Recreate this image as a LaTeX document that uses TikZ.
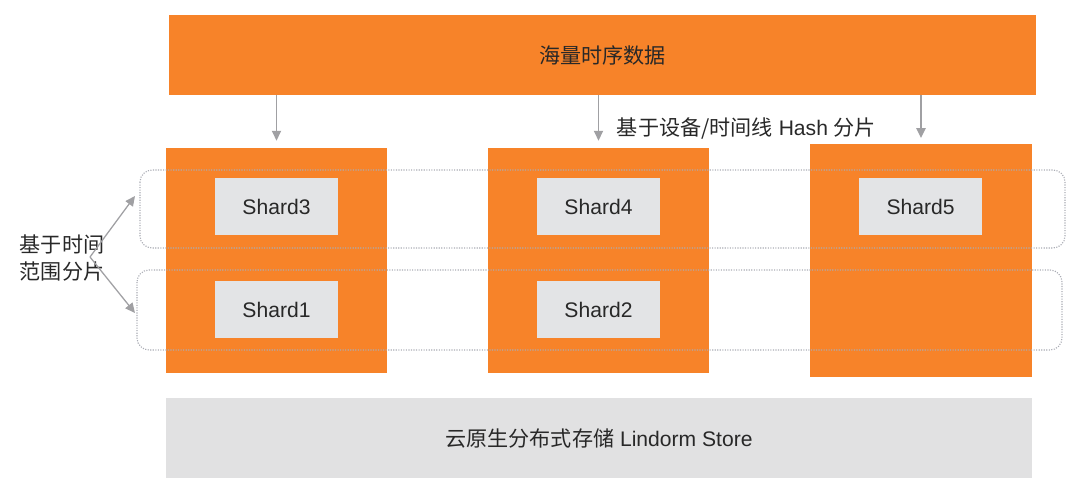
\documentclass[tikz,border=0pt]{standalone}
\usepackage{fontspec}
\setmainfont{Liberation Sans}
\newfontfamily\cjk{Noto Sans CJK SC}
\usepackage{tikz}
\usetikzlibrary{positioning, calc, arrows.meta}
\definecolor{shardOrange}{RGB}{247, 131, 41}
\definecolor{shardGray}{RGB}{227, 228, 230}
\definecolor{storeGray}{RGB}{225, 225, 226}
\definecolor{lineGray}{RGB}{160, 160, 163}
\definecolor{bandGray}{RGB}{170, 172, 180}
\definecolor{textDark}{RGB}{40, 40, 40}

\begin{document}
\begin{tikzpicture}[
    x=0.025cm, y=-0.025cm,
    bar/.style={rectangle, fill=shardOrange, minimum width=21.675cm,
                minimum height=2cm, inner sep=0pt, text=textDark,
                font=\fontsize{15}{18}\selectfont},
    column/.style={rectangle, fill=shardOrange, minimum width=5.525cm,
                   minimum height=5.625cm, inner sep=0pt},
    shard/.style={rectangle, fill=shardGray, minimum width=3.075cm,
                  minimum height=1.425cm, inner sep=0pt, text=textDark,
                  font=\fontsize{15}{18}\selectfont},
    band/.style={draw=bandGray, densely dotted, line width=0.8pt,
                 rounded corners=0.3cm},
    arrow/.style={-{Triangle[width=6.5pt, length=7pt]}, draw=lineGray,
                  line width=1.1pt},
    label/.style={text=textDark, font=\fontsize{15}{19}\selectfont},
  ]
    \useasboundingbox (0,0) rectangle (1080,493);

    % top and bottom layers
    \node[bar] (data) at (602.5,55) {\cjk 海量时序数据};
    \node[bar, fill=storeGray, minimum width=21.65cm] (store) at (599,438)
         {{\cjk 云原生分布式存储} Lindorm Store};

    % columns
    \node[column] (col1) at (276.5,260.5) {};
    \node[column] (col2) at (598.5,260.5) {};
    \node[column, minimum width=5.55cm, minimum height=5.825cm] (col3)
         at (921,260.5) {};

    % time bands
    \draw[band] (140,170) rectangle (1065,248);
    \draw[band] (137,270) rectangle (1062,350);

    % shards
    \node[shard] (s3) at (276.5,206.5) {Shard3};
    \node[shard] (s4) at (598.5,206.5) {Shard4};
    \node[shard] (s5) at (920.5,206.5) {Shard5};
    \node[shard] (s1) at (276.5,309.5) {Shard1};
    \node[shard] (s2) at (598.5,309.5) {Shard2};

    % hash partition
    \draw[arrow, shorten >=5pt] (data.south -| col1.north) -- (col1.north);
    \draw[arrow, shorten >=5pt] (data.south -| col2.north) -- (col2.north);
    \draw[arrow, shorten >=4pt] (data.south -| col3.north) -- (col3.north);
    \node[label, anchor=west] (hash) at (612,128)
         {{\cjk 基于设备/时间线} Hash {\cjk 分片}};

    % time partition
    \node[label, align=left] (time) at (62,258) {\cjk 基于时间\\\cjk 范围分片};
    \coordinate (fork) at (90,257);
    \coordinate (upper) at (135,196);
    \coordinate (lower) at (135,313);
    \draw[arrow, line width=0.9pt] (fork) -- (upper);
    \draw[arrow, line width=0.9pt] (fork) -- (lower);
  \end{tikzpicture}
\end{document}
